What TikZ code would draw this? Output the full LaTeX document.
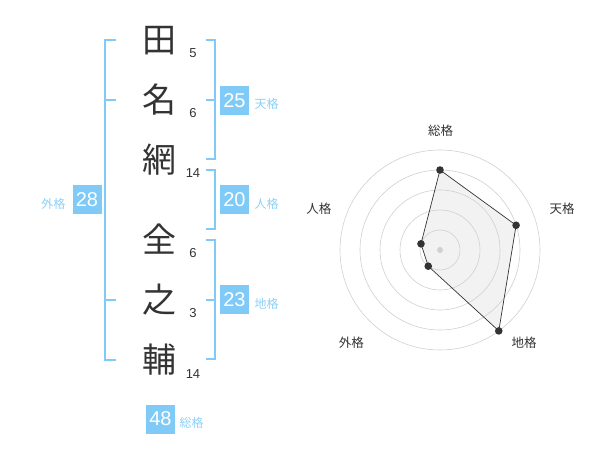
\documentclass[tikz,border=0pt]{standalone}
\usepackage{fontspec}
\setmainfont{Liberation Sans}
\newfontfamily\cjk{Noto Sans CJK JP}
\definecolor{kblue}{RGB}{128,202,248}
\definecolor{klabel}{RGB}{140,208,248}
\definecolor{ktext}{RGB}{51,51,51}
\definecolor{kgrid}{RGB}{208,208,208}
\begin{document}
\begin{tikzpicture}[x=1pt,y=-1pt,
  namechar/.style={font=\cjk\fontsize{34}{34}\selectfont, text=ktext, anchor=base, inner sep=0},
  strokes/.style={font=\fontsize{13}{13}\selectfont, text=ktext, anchor=base, inner sep=0},
  kbox/.style={fill=kblue, text=white, minimum width=29, minimum height=29, inner sep=0, font=\fontsize{20}{20}\selectfont},
  klab/.style={text=klabel, font=\cjk\fontsize{12}{12}\selectfont, inner sep=0},
  bracket/.style={draw=kblue, line width=2},
  axlab/.style={text=ktext, font=\cjk\fontsize{12.5}{12.5}\selectfont, inner sep=0},
  grid/.style={draw=kgrid, line width=0.6},
  dot/.style={fill=ktext},
]
\useasboundingbox (0,0) rectangle (600,470);

% name characters
\node[namechar] (c1) at (159,40+12.9) {田};
\node[namechar] (c2) at (159,100+12.9) {名};
\node[namechar] (c3) at (159,160+12.9) {網};
\node[namechar] (c4) at (159,240+12.9) {全};
\node[namechar] (c5) at (159,300+12.9) {之};
\node[namechar] (c6) at (159,360+12.9) {輔};

% stroke counts
\node[strokes] (n1) at (193,58) {5};
\node[strokes] (n2) at (193,118) {6};
\node[strokes] (n3) at (193,178) {14};
\node[strokes] (n4) at (193,258) {6};
\node[strokes] (n5) at (193,318) {3};
\node[strokes] (n6) at (193,378) {14};

% brackets
\draw[bracket] (116,40) -- (105,40) -- (105,360) -- (116,360);
\draw[bracket] (105,100) -- (116,100);
\draw[bracket] (105,300) -- (116,300);
\draw[bracket] (206,40) -- (214.5,40) -- (214.5,159.5) -- (206,159.5);
\draw[bracket] (206,100) -- (214.5,100);
\draw[bracket] (206,170) -- (214.5,170) -- (214.5,229.5) -- (206,229.5);
\draw[bracket] (206,240) -- (214.5,240) -- (214.5,359.5) -- (206,359.5);
\draw[bracket] (206,300) -- (214.5,300);

% boxes and labels
\node[kbox] (bten) at (234.5,100.5) {25};
\node[klab] (lten) at (266.5,104) {天格};
\node[kbox] (bjin) at (234.5,200) {20};
\node[klab] (ljin) at (266.5,203.5) {人格};
\node[kbox] (bchi) at (234.5,300) {23};
\node[klab] (lchi) at (266.5,303.5) {地格};
\node[kbox] (bgai) at (87,200) {28};
\node[klab] (lgai) at (53.3,203.5) {外格};
\node[kbox] (bsou) at (160.5,419) {48};
\node[klab] (lsou) at (191.7,423) {総格};

% radar chart
\begin{scope}[shift={(440,250)}, yscale=-1]
  \coordinate (p1) at (90:80);
  \coordinate (p2) at (18:80);
  \coordinate (p3) at (-54:100);
  \coordinate (p4) at (-126:20);
  \coordinate (p5) at (162:20);
  \fill[gray!10] (p1) -- (p2) -- (p3) -- (p4) -- (p5) -- cycle;
  \foreach \r in {20,40,60,80,100} \draw[grid] (0,0) circle (\r);
  \fill[kgrid] (0,0) circle (3);
  \draw[ktext, line width=0.7] (p1) -- (p2) -- (p3) -- (p4) -- (p5) -- cycle;
  \foreach \p in {p1,p2,p3,p4,p5} \fill[dot] (\p) circle (3.8);
\end{scope}
\node[axlab] (asou) at (440.7,130.8) {総格};
\node[axlab] (aten) at (562,208.5) {天格};
\node[axlab] (achi) at (524,342.5) {地格};
\node[axlab] (agai) at (351.3,342.5) {外格};
\node[axlab] (ajin) at (318.8,208.5) {人格};
\end{tikzpicture}
\end{document}
